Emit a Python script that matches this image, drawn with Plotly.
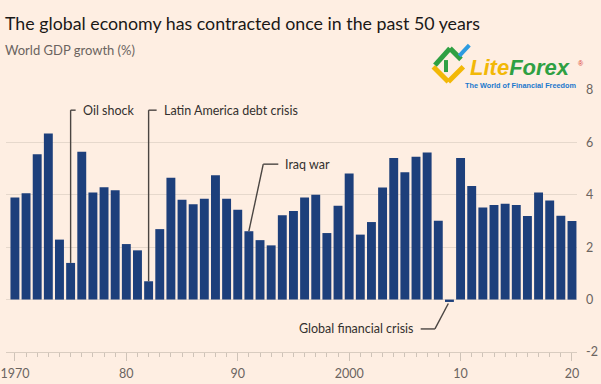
import plotly.graph_objects as go

years = list(range(1970, 2021))
growth = [3.90, 4.06, 5.55, 6.34, 2.29, 1.40, 5.64, 4.09, 4.29, 4.17,
          2.12, 1.88, 0.70, 2.69, 4.65, 3.81, 3.64, 3.85, 4.75, 3.85,
          3.43, 2.61, 2.27, 2.07, 3.22, 3.38, 3.90, 4.00, 2.54, 3.58,
          4.81, 2.48, 2.96, 4.28, 5.40, 4.86, 5.45, 5.61, 3.01, -0.09,
          5.40, 4.34, 3.52, 3.61, 3.66, 3.61, 3.19, 4.09, 3.78, 3.20, 3.00]

x_tickvals = [1970, 1980, 1990, 2000, 2010, 2020]
x_ticktext = ["1970", "80", "90", "2000", "10", "20"]
y_tickvals = [-2, 0, 2, 4, 6, 8]
y_ticktext = ["-2", "0", "2", "4", "6", "8"]

# annotation events: (label, year)
events = [("Oil shock", 1975), ("Latin America debt crisis", 1982),
          ("Iraq war", 1991), ("Global financial crisis", 2009)]

BG = "#FEEEE2"
BAR = "#1D3F7B"
GRID = "#E6D8CC"
TXT = "#33302E"
GREY = "#6B6460"
LINE = "#4A4542"
FONT = "Lato"

W, H = 601, 384
ML, MR, MT, MB = 6, 24, 90, 31.5
PW, PH = W - ML - MR, H - MT - MB

def px(x):
    return (x - ML) / PW

def py(y):
    return (H - MB - y) / PH

fig = go.Figure()
fig.add_trace(go.Bar(x=years, y=growth, marker=dict(color=BAR, line=dict(width=0)),
                     hoverinfo="x+y"))

val = dict(zip(years, growth))
shapes = []
annotations = []

def seg(x0, y0, x1, y1, color=LINE, width=1.4, xref="x", yref="y"):
    shapes.append(dict(type="line", x0=x0, y0=y0, x1=x1, y1=y1, xref=xref, yref=yref,
                       line=dict(color=color, width=width)))

# Oil shock
yr = events[0][1]
seg(yr, val[yr], yr, 7.23)
seg(yr, 7.23, yr + 0.45, 7.23)
annotations.append(dict(x=yr + 0.95, y=7.23, text=events[0][0], xanchor="left", yanchor="middle",
                        showarrow=False, font=dict(size=12.5, color=TXT, family=FONT)))
# Latin America
yr = events[1][1]
seg(yr, val[yr], yr, 7.23)
seg(yr, 7.23, yr + 0.72, 7.23)
annotations.append(dict(x=yr + 1.22, y=7.23, text=events[1][0], xanchor="left", yanchor="middle",
                        showarrow=False, font=dict(size=12.5, color=TXT, family=FONT)))
# Iraq war
yr = events[2][1]
seg(yr, val[yr], yr + 1.29, 5.17)
seg(yr + 1.29, 5.17, yr + 2.64, 5.17)
annotations.append(dict(x=yr + 3.1, y=5.17, text=events[2][0], xanchor="left", yanchor="middle",
                        showarrow=False, font=dict(size=12.5, color=TXT, family=FONT)))
# GFC
yr = events[3][1]
seg(yr - 0.1, -0.15, yr - 1.3, -1.12)
seg(yr - 1.3, -1.12, yr - 2.58, -1.12)
annotations.append(dict(x=yr - 3.1, y=-1.12, text=events[3][0], xanchor="right", yanchor="middle",
                        showarrow=False, font=dict(size=12.5, color=TXT, family=FONT)))

# Title & subtitle
annotations.append(dict(x=px(3), y=py(23), xref="paper", yref="paper", xanchor="left", yanchor="middle",
                        text="The global economy has contracted once in the past 50 years",
                        showarrow=False, font=dict(size=17.8, color="#1A1817", family=FONT)))
annotations.append(dict(x=px(3), y=py(50), xref="paper", yref="paper", xanchor="left", yanchor="middle",
                        text="World GDP growth (%)",
                        showarrow=False, font=dict(size=13, color=GREY, family=FONT)))

# LiteForex watermark
seg(px(433.3), py(66.7), px(448.3), py(81.7), color="#F2B807", width=5, xref="paper", yref="paper")
seg(px(448.3), py(81.7), px(463.3), py(66.7), color="#F2B807", width=5, xref="paper", yref="paper")
seg(px(435), py(65), px(450), py(48.3), color="#2FA043", width=5, xref="paper", yref="paper")
seg(px(450), py(48.3), px(461), py(59.3), color="#2FA043", width=5, xref="paper", yref="paper")
seg(px(446), py(60), px(446), py(72), color="#2FA043", width=4, xref="paper", yref="paper")
seg(px(459.3), py(55.7), px(469.3), py(45), color="#2D9BE0", width=4, xref="paper", yref="paper")
annotations.append(dict(x=px(468), y=py(67.5), xref="paper", yref="paper", xanchor="left", yanchor="middle",
                        text="<b><i><span style='color:#F2B807'>Lite</span><span style='color:#2FA043'>Forex</span></i></b>",
                        showarrow=False, font=dict(size=22, family="Liberation Sans")))
annotations.append(dict(x=px(576), y=py(63), xref="paper", yref="paper", xanchor="left", yanchor="middle",
                        text="®", showarrow=False, font=dict(size=7, color="#D9342B", family="Liberation Sans")))
annotations.append(dict(x=px(463), y=py(85.5), xref="paper", yref="paper", xanchor="left", yanchor="middle",
                        text="<b>The World of Financial Freedom</b>",
                        showarrow=False, font=dict(size=7.3, color="#1B78CC", family="Liberation Sans")))

fig.update_layout(
    width=W, height=H,
    margin=dict(l=ML, r=MR, t=MT, b=MB, pad=0, autoexpand=False),
    paper_bgcolor=BG, plot_bgcolor=BG,
    showlegend=False, bargap=0.2,
    font=dict(family=FONT, color=GREY, size=12.5),
    shapes=shapes, annotations=annotations,
    xaxis=dict(range=[1969.2, 2020.45], tickvals=x_tickvals, ticktext=x_ticktext,
               ticks="outside", ticklen=8, tickcolor="#CFC3B8", tickwidth=1,
               minor=dict(dtick=1, tick0=1970, ticks="outside", ticklen=4, tickcolor="#CFC3B8", tickwidth=1),
               showline=True, linecolor="#D9CCC0", linewidth=1,
               showgrid=False, zeroline=False, fixedrange=True, automargin=False,
               tickfont=dict(size=12.5, color=GREY, family=FONT), ticklabelstandoff=2),
    yaxis=dict(range=[-2, 8], side="right", tickvals=y_tickvals, ticktext=y_ticktext,
               showgrid=True, gridcolor=GRID, gridwidth=1, zeroline=False,
               ticks="", showline=False, fixedrange=True, automargin=False,
               tickfont=dict(size=12.5, color=GREY, family=FONT), ticklabelstandoff=8),
)

fig.write_html("out.html", config={"displayModeBar": False},
               post_script="document.body.style.margin='0';document.body.style.padding='0';"
                           "document.documentElement.style.background='" + BG + "';"
                           "document.body.style.background='" + BG + "';")
